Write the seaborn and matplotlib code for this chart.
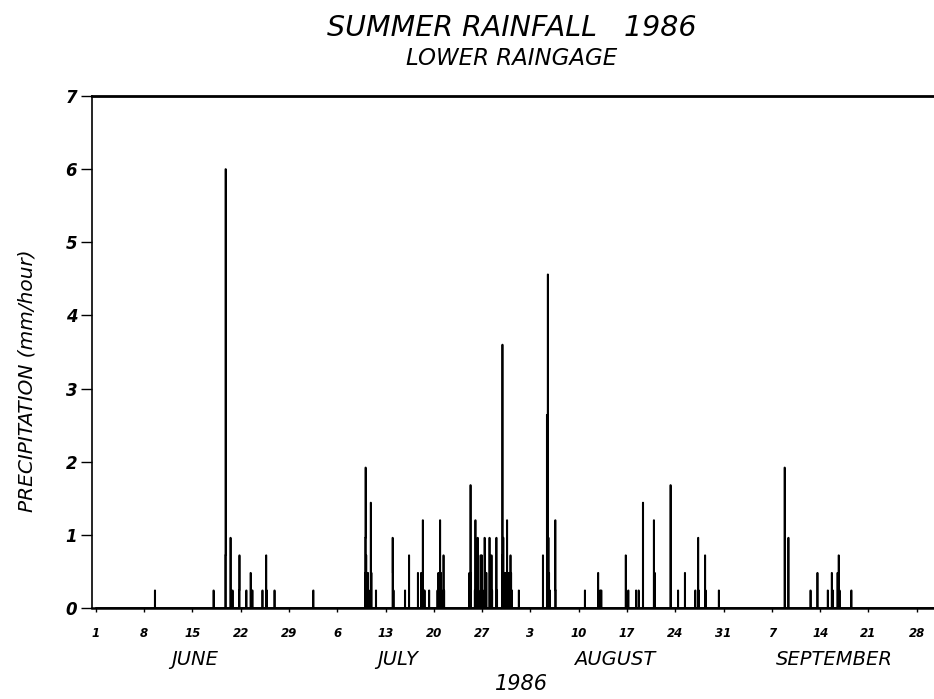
import numpy as np
import pandas as pd
import matplotlib
matplotlib.use("Agg")
import matplotlib.pyplot as plt
import matplotlib.transforms as mtransforms
import seaborn as sns

# Hourly rainfall events, summer 1986 (lower raingage).
# Time is in days since 1 June 00:00; rate in mm/hour (tip size 0.24 mm).
june_days = [8.55, 17.05, 18.75, 18.80, 19.50, 19.80, 20.75, 20.82, 21.80,
             22.45, 22.55, 22.70, 24.15, 24.70, 24.76, 25.90, 31.50]
june_rate = [0.24, 0.24, 0.72, 6.00, 0.96, 0.24, 0.24, 0.72, 0.24,
             0.48, 0.24, 0.24, 0.24, 0.72, 0.24, 0.24, 0.24]

july_days = [39.00, 39.06, 39.12, 39.18, 39.24, 39.32, 39.45, 39.78, 39.85, 39.92,
             40.60, 43.00, 43.08, 43.15, 44.80, 45.40, 46.70,
             47.15, 47.30, 47.40, 47.50, 47.65, 48.30,
             49.50, 49.65, 49.80, 49.90, 50.00, 50.10, 50.40, 50.46,
             54.15, 54.30, 54.36, 54.95, 55.02, 55.10, 55.35, 55.45,
             55.75, 55.85, 55.95, 56.05, 56.35, 56.45, 56.60,
             57.05, 57.15, 57.35, 57.45, 58.05, 58.15,
             58.88, 58.95, 59.05, 59.15, 59.30, 59.45, 59.60, 59.70, 59.85,
             60.10, 60.20, 60.30, 61.30]
july_rate = [0.48, 0.96, 1.92, 0.72, 0.48, 0.48, 0.48, 0.24, 1.44, 0.48,
             0.24, 0.96, 0.48, 0.24, 0.24, 0.72, 0.48,
             0.48, 0.48, 1.20, 0.24, 0.24, 0.24,
             0.24, 0.48, 0.48, 1.20, 0.48, 0.24, 0.72, 0.24,
             0.48, 1.68, 0.48, 0.24, 1.20, 0.24, 0.96, 0.24,
             0.72, 0.48, 0.72, 0.24, 0.96, 0.24, 0.48,
             0.96, 0.24, 0.72, 0.24, 0.96, 0.24,
             0.72, 3.60, 0.96, 0.48, 0.48, 0.48, 1.20, 0.48, 0.48,
             0.72, 0.48, 0.24, 0.24]

august_days = [64.80, 65.40, 65.50, 65.60, 65.70, 65.80, 66.60, 66.66,
               70.90, 72.80, 73.10, 73.25, 76.80, 76.86, 77.20, 78.30, 78.70,
               79.30, 80.90, 81.00, 83.30, 84.40, 85.40,
               86.90, 87.30, 87.40, 88.30, 88.40, 90.30]
august_rate = [0.72, 2.64, 4.56, 0.96, 0.48, 0.24, 1.20, 0.24,
               0.24, 0.48, 0.24, 0.24, 0.72, 0.24, 0.24, 0.24, 0.24,
               1.44, 1.20, 0.48, 1.68, 0.24, 0.48,
               0.24, 0.96, 0.24, 0.72, 0.24, 0.24]

september_days = [99.85, 100.40, 103.60, 104.60, 106.10, 106.70, 106.85,
                  107.50, 107.70, 107.80, 109.50]
september_rate = [1.92, 0.96, 0.24, 0.48, 0.24, 0.48, 0.24,
                  0.48, 0.72, 0.24, 0.24]

# Axis labelling
tick_days = [0, 7, 14, 21, 28, 35, 42, 49, 56, 63, 70, 77, 84, 91, 98, 105, 112, 119]
tick_labels = ["1", "8", "15", "22", "29", "6", "13", "20", "27", "3", "10",
               "17", "24", "31", "7", "14", "21", "28"]
month_names = ["JUNE", "JULY", "AUGUST", "SEPTEMBER"]
month_centres = [14.3, 43.8, 75.2, 107.1]
y_ticks = [0, 1, 2, 3, 4, 5, 6, 7]

days = june_days + july_days + august_days + september_days
rates = june_rate + july_rate + august_rate + september_rate
# place each event in the centre of its hourly bin
hour_index = np.floor(np.array(days) * 24)
rain = pd.DataFrame({"time": (hour_index + 0.5) / 24, "rate": rates})

sns.set_style("ticks")
plt.rcParams["font.family"] = ["DejaVu Sans"]
plt.rcParams["font.style"] = "italic"
plt.rcParams["text.color"] = "black"
plt.rcParams["xtick.color"] = "black"
plt.rcParams["ytick.color"] = "black"
plt.rcParams["axes.edgecolor"] = "black"

fig = plt.figure(figsize=(9.34, 6.99), dpi=100)
ax = fig.add_axes([0.099, 0.1302, 0.901, 0.7325])

sns.histplot(data=rain, x="time", weights="rate", binwidth=1 / 24,
             binrange=(0, 122), element="step", fill=False,
             color="black", linewidth=1.3, ax=ax)

ax.set_xlim(-0.5, 121.5)
ax.set_ylim(0, 7)
ax.set_xticks(tick_days)
ax.set_xticklabels(tick_labels, fontsize=8.5, fontweight="bold", style="italic",
                   color="black")
ax.set_yticks(y_ticks)
ax.set_yticklabels([str(v) for v in y_ticks], fontsize=12, fontweight="bold",
                   style="italic", color="black")
ax.tick_params(axis="x", length=3, width=1, pad=11, direction="out")
ax.tick_params(axis="y", length=8, width=1, pad=3, direction="out")
ax.set_xlabel("")
ax.set_ylabel("")

for side in ["left", "top", "bottom"]:
    ax.spines[side].set_visible(True)
    ax.spines[side].set_color("black")
ax.spines["left"].set_linewidth(1.2)
ax.spines["top"].set_linewidth(2.0)
ax.spines["bottom"].set_linewidth(1.8)
ax.spines["right"].set_visible(False)

trans = mtransforms.blended_transform_factory(ax.transData, ax.transAxes)
for name, c in zip(month_names, month_centres):
    ax.text(c, -0.101, name, transform=trans, ha="center", va="center",
            fontsize=14, style="italic", color="black")
ax.text(61.7, -0.148, "1986", transform=trans, ha="center", va="center",
        fontsize=15, style="italic", color="black")

fig.text(0.548, 0.96, "SUMMER RAINFALL   1986", ha="center", va="center",
         fontsize=20.5, style="italic", color="black")
fig.text(0.548, 0.917, "LOWER RAINGAGE", ha="center", va="center",
         fontsize=16.5, style="italic", color="black")
fig.text(0.029, 0.456, "PRECIPITATION (mm/hour)", rotation=90, ha="center",
         va="center", fontsize=14.5, style="italic", color="black")

fig.savefig("out.png", dpi=100, facecolor="white")
